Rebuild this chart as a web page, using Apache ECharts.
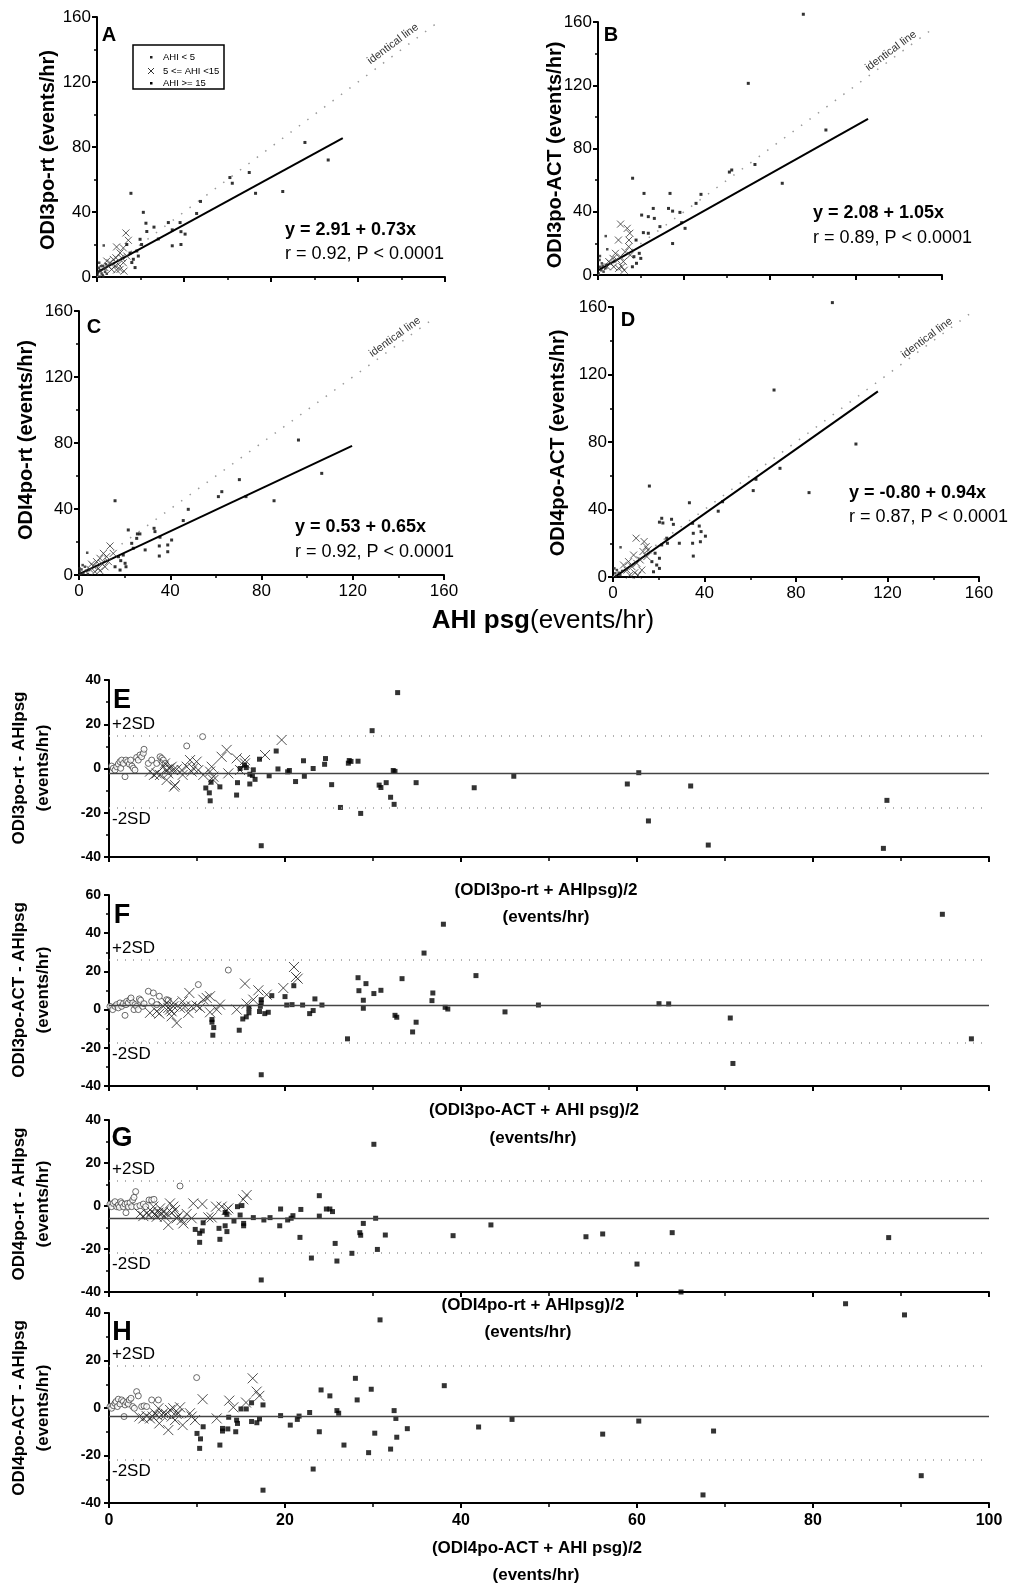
<!DOCTYPE html>
<html><head><meta charset="utf-8">
<script src="https://cdn.jsdelivr.net/npm/echarts/dist/echarts.min.js"></script>
<style>html,body{margin:0;padding:0;background:#fff}#c{width:1024px;height:1595px}</style>
</head><body><div id="c"></div>
<script>
const FONT = '"Liberation Sans", Arial, Helvetica, sans-serif';

// ---------- Top panels: AHI psg (x) vs oximetry index (y) ----------
const topTicks = [0, 40, 80, 120, 160];
const identityLine = [[0, 0], [156, 156]];

const A_low = [[0.2,1.2],[0.6,3.2],[1.3,4.3],[2.1,2.2],[2.8,6.7],[1.0,8.8],[3.1,19.4],[1.3,0.2],[2.6,1.2],[3.7,3.2],[1.8,6.7],[4.1,7.8],[0.8,5.7],[2.9,0.2],[0.4,2.5],[1.6,3.8],[3.3,5.0],[4.5,2.0]];
const A_mid = [[13.3,27.1],[9.0,18.5],[14.4,22.6],[12.1,17.9],[10.6,14.8],[7.5,10.8],[6.0,8.8],[8.3,6.7],[10.6,4.7],[12.1,8.8],[5.2,6.7],[3.7,5.7],[9.8,7.8],[11.3,11.8],[13.7,12.9],[6.7,4.7],[8.7,11.8],[12.4,3.6],[4.5,9.8],[9.0,4.3]];
const A_high = [[15.6,51.5],[21.3,39.8],[26.2,30.7],[22.9,28.0],[22.5,33.1],[32.8,33.5],[34.6,29.0],[34.6,19.2],[38.2,33.5],[38.6,27.9],[38.6,20.0],[40.5,26.4],[45.8,39.1],[47.6,46.5],[61.1,61.2],[62.2,57.7],[70.0,64.3],[72.9,51.5],[85.4,52.6],[95.6,82.8],[106.3,72.0],[19.8,23.2],[18.3,16.0],[19.0,12.9],[17.5,5.8],[16.0,8.9],[16.7,10.9],[20.5,20.0],[28.2,23.4],[13.7,20.0],[15.2,14.7]];
const A_fit = [[0, 2.91], [113, 85.4]];

const B_low = [[3.6,24.6],[1.0,5.2],[1.8,7.4],[2.6,2.1],[0.3,1.0],[3.4,4.2],[0.7,9.5],[4.3,16.3],[1.5,3.0],[2.2,5.8],[4.0,6.5],[0.9,12.0]];
const B_mid = [[10.5,32.2],[9.5,22.1],[13.6,29.5],[14.4,22.1],[12.6,14.7],[10.4,11.5],[8.1,13.7],[5.8,7.4],[7.3,5.2],[8.8,9.5],[11.1,5.2],[12.2,3.0],[4.3,5.2],[9.6,4.2],[14.3,17.9],[11.8,8.5],[15.0,12.6],[7.0,10.5],[5.0,8.5],[14.8,26.4]];
const B_high = [[95.5,164.9],[69.9,121.2],[106.0,91.7],[85.7,58.0],[61.1,65.1],[62.2,66.4],[73.0,69.9],[47.9,51.0],[45.6,45.3],[38.1,39.6],[38.9,33.1],[40.5,29.5],[34.7,19.9],[33.5,51.6],[32.8,42.1],[34.7,40.4],[28.8,30.6],[25.7,42.1],[26.2,35.8],[23.4,36.9],[21.4,51.6],[20.3,37.9],[16.1,61.2],[21.1,26.8],[17.7,22.1],[19.2,13.7],[19.9,10.5],[17.9,7.4],[16.0,5.2],[23.4,26.4],[16.7,11.6]];
const B_fit = [[0, 3.0], [125.6, 98.7]];

const C_low = [[3.6,13.5],[0.4,2.0],[1.1,3.4],[1.9,1.0],[2.6,5.0],[0.2,4.0],[3.1,2.6],[1.6,6.0],[3.9,0.6],[4.4,3.0],[0.8,0.5]];
const C_mid = [[13.6,17.6],[10.7,13.1],[12.1,11.1],[9.2,10.1],[7.7,8.1],[9.9,7.1],[6.3,5.4],[8.5,4.0],[11.4,5.0],[12.9,8.1],[4.8,3.4],[7.0,2.0],[9.2,2.6],[15.0,13.1],[5.5,6.6]];
const C_high = [[15.8,45.0],[96.2,81.8],[106.4,61.6],[85.5,45.0],[70.3,57.8],[73.2,47.5],[62.6,50.5],[61.1,47.5],[47.9,39.8],[45.7,33.0],[32.9,28.3],[33.3,26.3],[35.5,22.9],[35.2,17.6],[35.2,11.5],[38.9,18.2],[38.9,14.1],[40.6,21.2],[25.6,24.9],[26.7,24.9],[25.3,22.2],[21.6,27.3],[23.1,19.2],[23.8,16.2],[29.0,15.2],[19.4,12.1],[20.2,7.1],[18.3,8.7],[18.0,3.0],[17.3,11.1],[15.8,5.0],[20.6,5.0]];
const C_fit = [[0, 0.53], [119.7, 78.3]];

const D_low = [[1.0,2.2],[1.7,4.1],[2.5,2.5],[0.6,5.1],[3.2,1.1],[1.3,0.5],[3.3,17.6],[4.0,3.5]];
const D_mid = [[10.1,23.0],[13.6,21.0],[14.5,18.0],[9.0,13.0],[11.9,10.1],[10.4,8.1],[8.3,6.1],[6.1,4.1],[4.6,7.1],[6.8,9.1],[12.6,4.1],[14.8,12.1],[9.5,2.5],[7.3,1.1],[10.9,1.1],[13.1,15.1],[15.3,16.1]];
const D_high = [[95.9,162.6],[70.4,110.8],[106.2,78.8],[73.0,64.4],[62.5,57.9],[61.3,51.2],[85.7,50.0],[47.9,44.6],[46.0,39.0],[33.4,44.0],[15.9,53.9],[21.3,34.8],[20.3,32.5],[21.8,32.0],[25.6,34.2],[26.4,31.2],[23.5,23.0],[23.8,20.0],[21.3,19.0],[29.0,20.0],[34.8,31.8],[35.1,25.9],[34.8,20.0],[35.1,12.4],[37.7,30.2],[38.5,26.9],[38.2,20.9],[40.4,24.2],[20.3,11.1],[19.1,7.1],[18.4,14.1],[17.0,9.1],[20.3,5.1],[17.7,3.1]];
const D_fit = [[0, -0.8], [115.8, 110.0]];

// ---------- Bland-Altman panels: mean (x) vs difference (y) ----------
const E_low = [[0.3,1.1],[0.49,0.1],[0.68,-0.7],[0.87,0.8],[1.06,2.0],[1.25,3.1],[1.33,0.1],[1.44,3.8],[1.63,2.3],[1.82,-3.7],[1.93,3.8],[2.12,3.1],[2.31,2.0],[2.46,3.8],[2.61,1.1],[2.77,0.1],[2.95,-0.7],[3.14,5.0],[3.33,3.8],[3.52,6.1],[3.71,5.3],[3.9,6.9],[3.98,8.7],[4.47,2.3],[4.85,3.8],[5.42,2.3],[5.8,5.3],[5.99,4.6],[6.17,3.8],[6.4,2.3],[8.83,10.2],[10.64,14.4]];
const E_mid = [[4.66,-1.4],[5.11,-2.9],[5.42,-2.2],[5.8,-2.9],[6.17,0.8],[6.36,2.3],[6.55,-0.7],[6.74,-2.2],[6.86,0.1],[7.12,0.8],[7.31,-0.7],[7.5,-7.5],[7.39,-8.2],[6.55,-5.2],[7.69,-0.4],[8.26,-0.7],[8.37,-2.9],[8.83,0.8],[9.21,3.8],[9.39,-1.4],[9.58,0.1],[9.96,3.1],[10.15,-0.7],[10.72,-2.9],[11.48,-1.4],[11.67,0.8],[11.86,-3.7],[11.86,-5.2],[12.8,5.3],[13.37,8.4],[13.56,-2.2],[14.51,4.6],[14.89,-0.7],[15.45,3.8],[15.45,2.3],[17.73,6.1],[19.62,12.9]];
const E_high = [[32.8,34.3],[29.9,17.1],[19.0,7.9],[19.2,-0.2],[17.1,4.2],[14.9,0],[15.4,1.5],[15.6,0.4],[16.4,-0.6],[16.6,-4.9],[16.0,-2.6],[16.3,-3.1],[16.0,-7],[14.6,-6.4],[14.5,-12],[12.6,-8.3],[11.0,-8.8],[11.6,-6.2],[11.4,-11],[11.5,-14.6],[17.3,-34.9],[18.2,-3.3],[20.3,-1.5],[20.5,-0.9],[21.2,-5.9],[22.1,3.5],[22.2,-3.5],[23.2,0],[24.5,1.9],[24.6,4.5],[25.3,-7.3],[26.3,-17.6],[27.2,2.4],[27.3,3.6],[27.5,3.2],[28.3,3.3],[28.6,-20.3],[30.7,-7.5],[30.9,-8.6],[31.5,-6.4],[32.0,-13],[32.3,-0.9],[32.5,-1.3],[32.4,-16.2],[34.9,-6.4],[41.5,-8.7],[46.0,-3.5],[58.9,-7],[60.2,-1.9],[61.3,-23.7],[66.1,-7.9],[68.1,-34.6],[88.4,-14.4],[88.0,-36.1]];
const E_stats = [-2.2, 14.7, -17.9]; // mean, +2SD, -2SD

const F_low = [[0.11,1.7],[0.42,0],[0.68,1.7],[0.87,2.6],[1.06,0.9],[1.25,3.5],[1.44,1.7],[1.63,3.1],[1.82,-3.0],[1.93,2.6],[2.01,4.3],[2.2,3.5],[2.39,5.2],[2.5,6.1],[2.69,3.5],[2.84,0],[2.96,2.6],[3.14,1.7],[3.33,0],[3.45,5.6],[3.6,4.9],[3.83,1.7],[3.98,3.1],[4.47,9.6],[4.85,4.3],[5.04,8.7],[5.42,2.6],[5.72,7.0],[6.55,5.2],[6.74,4.9],[10.15,13.1],[13.56,20.7]];
const F_mid = [[4.66,-1.7],[5.42,-0.9],[5.72,-2.1],[6.17,1.7],[6.55,3.5],[6.74,0.9],[6.93,0],[7.12,-0.9],[7.12,-3.5],[7.31,1.7],[7.31,3.5],[7.69,-7.0],[8.07,0.9],[8.37,4.3],[8.64,1.7],[9.01,-1.7],[9.13,8.7],[9.39,1.7],[9.96,2.1],[10.34,0.9],[10.72,5.2],[11.1,6.1],[11.48,-1.4],[11.48,7.0],[12.24,0],[12.61,2.6],[14.51,0],[15.45,13.6],[15.64,3.1],[16.4,5.2],[16.97,10.1],[17.92,7.8],[19.81,11.3],[21.02,22.3],[21.25,17.1],[21.44,16.2]];
const F_high = [[35.8,29.6],[38.0,44.7],[41.7,17.8],[33.3,16.2],[28.3,16.7],[28.4,9.9],[29.2,13.6],[28.9,4.9],[28.9,0.7],[30.1,8.4],[30.9,10.1],[32.5,-3.0],[32.7,-4.0],[34.5,-11.7],[34.9,-6.6],[36.8,8.7],[36.7,4.7],[38.2,1.2],[38.5,0.3],[27.1,-15.3],[20.0,6.8],[20.2,2.4],[20.8,2.6],[21.0,12.5],[22.0,2.4],[22.8,-2.1],[23.2,-0.5],[23.4,5.6],[24.2,2.4],[18.5,7.3],[17.7,-2.1],[18.1,-1.4],[17.3,5.2],[17.3,3.5],[17.2,1.7],[17.1,-1.0],[15.9,0.7],[15.9,-1.7],[15.6,-3.8],[15.2,-4.9],[14.8,-10.8],[11.7,-5.2],[11.7,-6.6],[11.9,-9.4],[11.8,-13.4],[17.3,-34.1],[94.7,49.9],[45.0,-1.2],[48.8,2.4],[62.5,3.1],[63.6,3.0],[70.6,-4.4],[98.0,-15.3],[70.9,-28.2]];
const F_stats = [2.1, 26.0, -17.2];

const G_low = [[0.11,0.9],[0.3,-0.3],[0.49,1.2],[0.68,2.0],[0.87,-0.3],[1.06,0.5],[1.17,-0.6],[1.33,2.0],[1.44,1.2],[1.63,-0.3],[1.82,0.9],[1.93,-3.1],[2.08,1.2],[2.2,-0.3],[2.39,1.5],[2.58,-0.3],[2.69,2.8],[2.84,4.0],[3.03,6.7],[3.14,-0.3],[3.52,0.2],[3.9,0.9],[4.17,-0.3],[4.55,2.8],[4.85,2.8],[5.11,3.1],[8.07,9.3]];
const G_mid = [[3.52,-3.7],[3.9,-4.7],[4.28,-3.4],[4.58,-4.2],[4.85,-2.6],[5.04,-0.3],[5.23,-3.7],[5.42,-5.0],[5.61,-3.1],[5.8,-1.1],[5.99,-3.7],[6.17,-2.6],[6.36,-5.0],[6.55,-3.4],[6.74,-8.8],[6.93,1.2],[7.12,-3.1],[7.31,-0.3],[7.5,-1.9],[7.69,-5.7],[7.88,-4.7],[8.26,-6.5],[8.45,-8.1],[8.83,-3.7],[9.39,-5.7],[9.58,1.2],[10.61,0.9],[11.29,-5.3],[11.67,-5.3],[12.16,-0.3],[12.8,-0.3],[13.37,-1.9],[13.56,-1.1],[15.26,3.1],[15.64,5.1]];
const G_high = [[30.1,28.7],[23.9,4.8],[23.9,-4.7],[24.7,-1.4],[25.1,-1.4],[25.4,-2.6],[25.7,-17.4],[27.6,-22],[28.5,-12.4],[28.6,-13.6],[28.9,-8.1],[30.3,-5.7],[30.5,-20.2],[31.4,-13.5],[39.1,-13.8],[43.4,-8.8],[19.5,-1.4],[19.4,-9.2],[20.3,-6.5],[20.7,-5.7],[20.9,-4.5],[21.7,-14.6],[21.8,-1.6],[18.3,-5.4],[17.6,-6.5],[16.4,-5.4],[15.3,-8.1],[15.3,-9.2],[14.9,-4.2],[14.6,-0.3],[15.1,0.2],[14.2,-7],[13.4,-3.9],[13.2,-3],[13.4,-11.9],[13.2,-9.2],[12.5,-10.4],[12.6,-15.5],[10.7,-7.8],[10.6,-11.6],[10.3,-12.7],[10.3,-16.9],[9.8,-10.9],[23.0,-24.2],[25.9,-25.6],[17.3,-34.4],[54.2,-14.3],[56.1,-13.0],[64.0,-12.4],[88.6,-14.7],[60.0,-27.0],[65.0,-40.0]];
const G_stats = [-5.6, 11.6, -21.9];

const H_low = [[0.11,0.6],[0.3,-0.1],[0.49,1.0],[0.68,2.0],[0.8,2.7],[0.95,0.6],[1.06,3.7],[1.25,1.7],[1.44,3.4],[1.63,2.7],[1.71,-3.6],[1.82,1.3],[2.01,2.3],[2.2,1.7],[2.31,3.4],[2.5,4.1],[2.69,0.6],[2.88,-0.1],[3.14,6.9],[3.33,5.1],[3.71,0.6],[3.98,0.9],[4.28,0.6],[4.85,3.4],[5.61,3.4],[9.96,12.8]];
const H_mid = [[3.45,-3.6],[3.9,-4.4],[4.28,-3.4],[4.66,-4.4],[4.96,-3.6],[5.23,-2.2],[5.42,-2.9],[5.61,-0.1],[5.72,-6.5],[5.99,-2.9],[6.17,-2.2],[6.48,-2.5],[6.74,-9.3],[6.93,-0.8],[7.12,-3.6],[7.31,-0.1],[7.5,-5.1],[7.69,-2.5],[7.88,-2.2],[8.07,0.3],[8.37,-7.2],[9.2,-2.2],[9.39,-3.6],[9.77,-5.1],[10.64,3.7],[12.24,-4.4],[13.67,3.1],[14.13,0.3],[15.57,2.3],[16.33,12.5],[16.78,6.9],[17.08,5.1]];
const H_high = [[30.8,37.1],[38.1,9.4],[28.0,12.5],[28.2,3.4],[29.8,7.9],[30.2,-10.6],[29.5,-18.8],[32.0,-17.3],[32.4,-1.1],[32.6,-4.4],[32.7,-12.3],[33.9,-8.7],[26.7,-15.6],[25.1,5.1],[25.9,-1.1],[26.1,-2.2],[24.1,7.6],[23.9,-10],[22.8,-1.9],[21.6,-3.4],[21.4,-4.8],[20.6,-7.2],[19.5,-3.2],[17.5,1.3],[17.1,-4.6],[16.8,-6.2],[16.2,-5.7],[16.2,2.2],[15.6,-0.4],[15.0,-0.4],[14.5,-5.1],[14.6,-6.5],[14.4,-10],[13.6,-3.9],[13.5,-8.8],[12.9,-8.6],[12.9,-9.7],[12.6,-15.6],[10.7,-7.9],[10.4,-13.0],[10.3,-17.0],[10.0,-10.7],[23.2,-25.7],[17.5,-34.6],[67.5,-36.6],[92.3,-28.5],[45.8,-4.8],[56.1,-11],[60.2,-5.5],[68.7,-9.7],[83.7,43.9],[90.4,39.2],[42.0,-8.0]];
const H_stats = [-3.4, 17.7, -21.9];

// ---------- build ----------
const CROSS = 'path://M0 0L10 10M10 0L0 10';
const topPanels = [
  {key:'A', low:A_low, mid:A_mid, high:A_high, fit:A_fit, grid:{left:97, top:17, width:348, height:260}, labels:false},
  {key:'B', low:B_low, mid:B_mid, high:B_high, fit:B_fit, grid:{left:598, top:22, width:344, height:253}, labels:false},
  {key:'C', low:C_low, mid:C_mid, high:C_high, fit:C_fit, grid:{left:79, top:311, width:365, height:264}, labels:true},
  {key:'D', low:D_low, mid:D_mid, high:D_high, fit:D_fit, grid:{left:613, top:307, width:366, height:270}, labels:true}
];
const botPanels = [
  {key:'E', low:E_low, mid:E_mid, high:E_high, stats:E_stats, ymin:-40, ymax:40, grid:{left:109, top:680, width:880, height:177}, labels:false},
  {key:'F', low:F_low, mid:F_mid, high:F_high, stats:F_stats, ymin:-40, ymax:60, grid:{left:109, top:895, width:880, height:191}, labels:false},
  {key:'G', low:G_low, mid:G_mid, high:G_high, stats:G_stats, ymin:-40, ymax:40, grid:{left:109, top:1120, width:880, height:172}, labels:false},
  {key:'H', low:H_low, mid:H_mid, high:H_high, stats:H_stats, ymin:-40, ymax:40, grid:{left:109, top:1313, width:880, height:190}, labels:true}
];

const grids = [], xAxes = [], yAxes = [], series = [];
const axLine = {onZero:false, lineStyle:{color:'#000', width:2}};
topPanels.forEach((p, i) => {
  grids.push(p.grid);
  xAxes.push({gridIndex:i, type:'value', min:topTicks[0], max:topTicks[topTicks.length-1], interval:40,
    axisLine:axLine, axisTick:{length:5, lineStyle:{color:'#000', width:2}},
    minorTick:{show:true, splitNumber:2, length:3, lineStyle:{color:'#000', width:1.5}},
    splitLine:{show:false},
    axisLabel:{show:p.labels, fontSize:17, color:'#000', fontFamily:FONT, margin:8}});
  yAxes.push({gridIndex:i, type:'value', min:0, max:160, interval:40,
    axisLine:axLine, axisTick:{length:5, lineStyle:{color:'#000', width:2}},
    minorTick:{show:true, splitNumber:2, length:3, lineStyle:{color:'#000', width:1.5}},
    splitLine:{show:false},
    axisLabel:{fontSize:17, color:'#000', fontFamily:FONT, margin:6}});
  series.push({type:'line', xAxisIndex:i, yAxisIndex:i, data:identityLine, showSymbol:false, silent:true,
    lineStyle:{color:'#9a9a9a', width:1.5, type:[1.5, 9]}, z:1});
  series.push({type:'line', xAxisIndex:i, yAxisIndex:i, data:p.fit, showSymbol:false, silent:true,
    lineStyle:{color:'#000', width:2}, z:3});
  series.push({type:'scatter', xAxisIndex:i, yAxisIndex:i, data:p.low, symbol:'rect', symbolSize:2.5, clip:false,
    itemStyle:{color:'#222'}, z:4});
  series.push({type:'scatter', xAxisIndex:i, yAxisIndex:i, data:p.mid, symbol:CROSS, symbolSize:7, clip:false,
    itemStyle:{color:'none', borderColor:'#333', borderWidth:1}, z:4});
  series.push({type:'scatter', xAxisIndex:i, yAxisIndex:i, data:p.high, symbol:'rect', symbolSize:3, clip:false,
    itemStyle:{color:'#000'}, z:4});
});
botPanels.forEach((p, j) => {
  const i = j + 4;
  grids.push(p.grid);
  xAxes.push({gridIndex:i, type:'value', min:0, max:100, interval:20,
    axisLine:axLine, axisTick:{length:5, lineStyle:{color:'#000', width:2}},
    minorTick:{show:true, splitNumber:2, length:4, lineStyle:{color:'#000', width:1.5}},
    splitLine:{show:false},
    axisLabel:{show:p.labels, fontSize:16, fontWeight:'bold', color:'#000', fontFamily:FONT, margin:10}});
  yAxes.push({gridIndex:i, type:'value', min:p.ymin, max:p.ymax, interval:20,
    axisLine:axLine, axisTick:{length:5, lineStyle:{color:'#000', width:2}},
    minorTick:{show:true, splitNumber:2, length:3, lineStyle:{color:'#000', width:1.5}},
    splitLine:{show:false},
    axisLabel:{fontSize:14, fontWeight:'bold', color:'#000', fontFamily:FONT, margin:8}});
  series.push({type:'scatter', xAxisIndex:i, yAxisIndex:i, data:p.low, symbol:'circle', symbolSize:6, clip:false,
    itemStyle:{color:'#fff', borderColor:'#333', borderWidth:0.9}, z:4});
  series.push({type:'scatter', xAxisIndex:i, yAxisIndex:i, data:p.mid, symbol:CROSS, symbolSize:10, clip:false,
    itemStyle:{color:'none', borderColor:'#222', borderWidth:1}, z:4});
  series.push({type:'scatter', xAxisIndex:i, yAxisIndex:i, data:p.high, symbol:'rect', symbolSize:5, clip:false,
    itemStyle:{color:'#000'}, z:4,
    markLine:{silent:true, symbol:['none','none'], animation:false,
      data:[
        {yAxis:p.stats[0], lineStyle:{color:'#444', width:1.3, type:'solid'}, label:{show:false}},
        {yAxis:p.stats[1], lineStyle:{color:'#999', width:1.5, type:[1,7]},
          label:{show:true, position:'insideStartTop', formatter:'+2SD', color:'#000', fontSize:17, fontFamily:FONT, distance:[3,3]}},
        {yAxis:p.stats[2], lineStyle:{color:'#999', width:1.5, type:[1,7]},
          label:{show:true, position:'insideStartBottom', formatter:'-2SD', color:'#000', fontSize:17, fontFamily:FONT, distance:[3,3]}}
      ]}});
});

function T(text, x, y, font, opts) {
  return Object.assign({type:'text', x:x, y:y, silent:true, z:100,
    style:{text:text, font:font, fill:'#000', textAlign:'center', textVerticalAlign:'middle'}}, opts || {});
}
function L(text, x, y, font) {
  return {type:'text', x:x, y:y, silent:true, z:100,
    style:{text:text, font:font, fill:'#000', textAlign:'left', textVerticalAlign:'middle'}};
}
function R(text, x, y, rot, font, fill) {
  return {type:'text', x:x, y:y, rotation:rot, silent:true, z:100,
    style:{text:text, font:font, fill:fill || '#000', textAlign:'center', textVerticalAlign:'middle', lineHeight:24}};
}
const B20 = 'bold 20px ' + FONT, B17 = 'bold 17px ' + FONT, EQB = 'bold 18px ' + FONT, EQ = '18px ' + FONT, ID = '11px ' + FONT;
const V = Math.PI / 2;
const graphics = [
  // panel letters
  T('A', 109, 35, B20), T('B', 611, 35, B20), T('C', 94, 327, B20), T('D', 628, 320, B20),
  T('E', 122, 701, 'bold 27px ' + FONT), T('F', 122, 916, 'bold 27px ' + FONT),
  T('G', 122, 1139, 'bold 27px ' + FONT), T('H', 122, 1333, 'bold 27px ' + FONT),
  // y axis titles (top)
  R('ODI3po-rt (events/hr)', 48, 150, V, B20),
  R('ODI3po-ACT (events/hr)', 555, 155, V, B20),
  R('ODI4po-rt (events/hr)', 26, 440, V, B20),
  R('ODI4po-ACT (events/hr)', 558, 443, V, B20),
  // equations
  L('y = 2.91 + 0.73x', 285, 230, EQB), L('r = 0.92, P < 0.0001', 285, 254, EQ),
  L('y = 2.08 + 1.05x', 813, 213, EQB), L('r = 0.89, P < 0.0001', 813, 238, EQ),
  L('y = 0.53 + 0.65x', 295, 527, EQB), L('r = 0.92, P < 0.0001', 295, 552, EQ),
  L('y = -0.80 + 0.94x', 849, 493, EQB), L('r = 0.87, P < 0.0001', 849, 517, EQ),
  // identical line labels
  R('identical line', 393, 44, 0.642, ID, '#333'), R('identical line', 891, 51, 0.633, ID, '#333'),
  R('identical line', 395, 337, 0.626, ID, '#333'), R('identical line', 927, 338, 0.636, ID, '#333'),
  // common x title
  {type:'text', x:543, y:621, silent:true, z:100, style:{text:'{a|AHI psg}{b|(events/hr)}', textAlign:'center', textVerticalAlign:'middle',
    rich:{a:{font:'bold 26px ' + FONT, fill:'#000'}, b:{font:'26px ' + FONT, fill:'#000'}}}},
  // bottom y titles
  R('ODI3po-rt - AHIpsg\n(events/hr)', 31, 768, V, B17),
  R('ODI3po-ACT - AHIpsg\n(events/hr)', 31, 990, V, B17),
  R('ODI4po-rt - AHIpsg\n(events/hr)', 31, 1204, V, B17),
  R('ODI4po-ACT - AHIpsg\n(events/hr)', 31, 1408, V, B17),
  // bottom x titles
  T('(ODI3po-rt + AHIpsg)/2', 546, 890, B17), T('(events/hr)', 546, 917, B17),
  T('(ODI3po-ACT + AHI psg)/2', 534, 1110, B17), T('(events/hr)', 533, 1138, B17),
  T('(ODI4po-rt + AHIpsg)/2', 533, 1305, B17), T('(events/hr)', 528, 1332, B17),
  T('(ODI4po-ACT + AHI psg)/2', 537, 1548, B17), T('(events/hr)', 536, 1575, B17),
  // legend box (panel A)
  {type:'rect', silent:true, z:100, shape:{x:133, y:45, width:91, height:44}, style:{fill:'#fff', stroke:'#000', lineWidth:1.5}},
  {type:'rect', silent:true, z:101, shape:{x:150, y:56, width:2.5, height:2.5}, style:{fill:'#222'}},
  {type:'polyline', silent:true, z:101, shape:{points:[[148,68],[154,74]]}, style:{stroke:'#333', lineWidth:1}},
  {type:'polyline', silent:true, z:101, shape:{points:[[154,68],[148,74]]}, style:{stroke:'#333', lineWidth:1}},
  {type:'rect', silent:true, z:101, shape:{x:150, y:82, width:2.5, height:2.5}, style:{fill:'#000'}},
  L('AHI < 5', 163, 57, '9.5px ' + FONT),
  L('5 <= AHI <15', 163, 71, '9.5px ' + FONT),
  L('AHI >= 15', 163, 83, '9.5px ' + FONT)
];

const chart = echarts.init(document.getElementById('c'), null, {renderer:'canvas'});
chart.setOption({
  animation:false,
  backgroundColor:'#fff',
  textStyle:{fontFamily:FONT},
  grid:grids, xAxis:xAxes, yAxis:yAxes, series:series, graphic:graphics
});
</script></body></html>
